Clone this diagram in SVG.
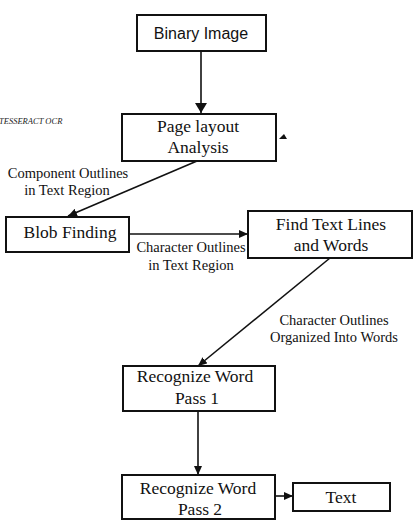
<svg xmlns="http://www.w3.org/2000/svg" width="417" height="530" viewBox="0 0 417 530">
<style>
.box{fill:#fff;stroke:#111;stroke-width:2}
.t{font-family:"Liberation Serif","Times New Roman",serif;font-size:17.5px;fill:#111;text-anchor:middle}
.s{font-family:"Liberation Sans",Arial,sans-serif;font-size:16px;fill:#111;text-anchor:middle}
.l{font-family:"Liberation Serif","Times New Roman",serif;font-size:14.5px;fill:#111;text-anchor:middle}
.c{stroke:#111;stroke-width:1.6;fill:none}
</style>
<defs>
<marker id="a" markerUnits="userSpaceOnUse" markerWidth="10" markerHeight="8" refX="9" refY="4" orient="auto">
<path d="M0,0 L9,4 L0,8 Z" fill="#111"/>
</marker>
<marker id="big" markerUnits="userSpaceOnUse" markerWidth="12" markerHeight="12" refX="10" refY="6" orient="auto">
<path d="M0,0 L10,6 L0,12 Z" fill="#111"/>
</marker>
</defs>
<text x="-1" y="124" font-family="Liberation Serif,serif" font-style="italic" font-size="8.5" fill="#222">TESSERACT OCR</text>
<polygon points="279,139 287,139 284,134" fill="#111"/>
<g id="connectors">
<line class="c" x1="201" y1="51" x2="201" y2="113" marker-end="url(#big)"/>
<line class="c" x1="197" y1="161" x2="68" y2="216" marker-end="url(#a)"/>
<line class="c" x1="129" y1="234" x2="248" y2="234" marker-end="url(#a)"/>
<line class="c" x1="330" y1="258" x2="198" y2="366" marker-end="url(#a)"/>
<line class="c" x1="198" y1="411" x2="198" y2="475" marker-end="url(#a)"/>
<line class="c" x1="275" y1="496" x2="293" y2="496" marker-end="url(#a)"/>
</g>
<g id="edge-labels">
<text class="l" x="68" y="178">Component Outlines</text>
<text class="l" x="67" y="195">in Text Region</text>
<text class="l" x="191" y="252">Character Outlines</text>
<text class="l" x="191" y="270">in Text Region</text>
<text class="l" x="334" y="325">Character Outlines</text>
<text class="l" x="334" y="342">Organized Into Words</text>
</g>
<g id="binary-image">
<rect class="box" x="137" y="15" width="129" height="36"/>
<text class="s" x="201" y="39">Binary Image</text>
</g>
<g id="page-layout">
<rect class="box" x="122" y="114" width="154" height="47"/>
<text class="t" x="198" y="132">Page layout</text>
<text class="t" x="198" y="153">Analysis</text>
</g>
<g id="blob-finding">
<rect class="box" x="6" y="217" width="123" height="35"/>
<text class="t" x="70" y="238" font-size="18">Blob Finding</text>
</g>
<g id="find-text-lines">
<rect class="box" x="248" y="211" width="164" height="47"/>
<text class="t" x="331" y="230">Find Text Lines</text>
<text class="t" x="331" y="251">and Words</text>
</g>
<g id="recognize-pass1">
<rect class="box" x="123" y="366" width="152" height="45"/>
<text class="t" x="195" y="382">Recognize Word</text>
<text class="t" x="197" y="404">Pass 1</text>
</g>
<g id="recognize-pass2">
<rect class="box" x="122" y="475" width="153" height="44"/>
<text class="t" x="198" y="494">Recognize Word</text>
<text class="t" x="200" y="515">Pass 2</text>
</g>
<g id="text-out">
<rect class="box" x="293" y="483" width="97" height="28"/>
<text class="t" x="341" y="503">Text</text>
</g>
</svg>
